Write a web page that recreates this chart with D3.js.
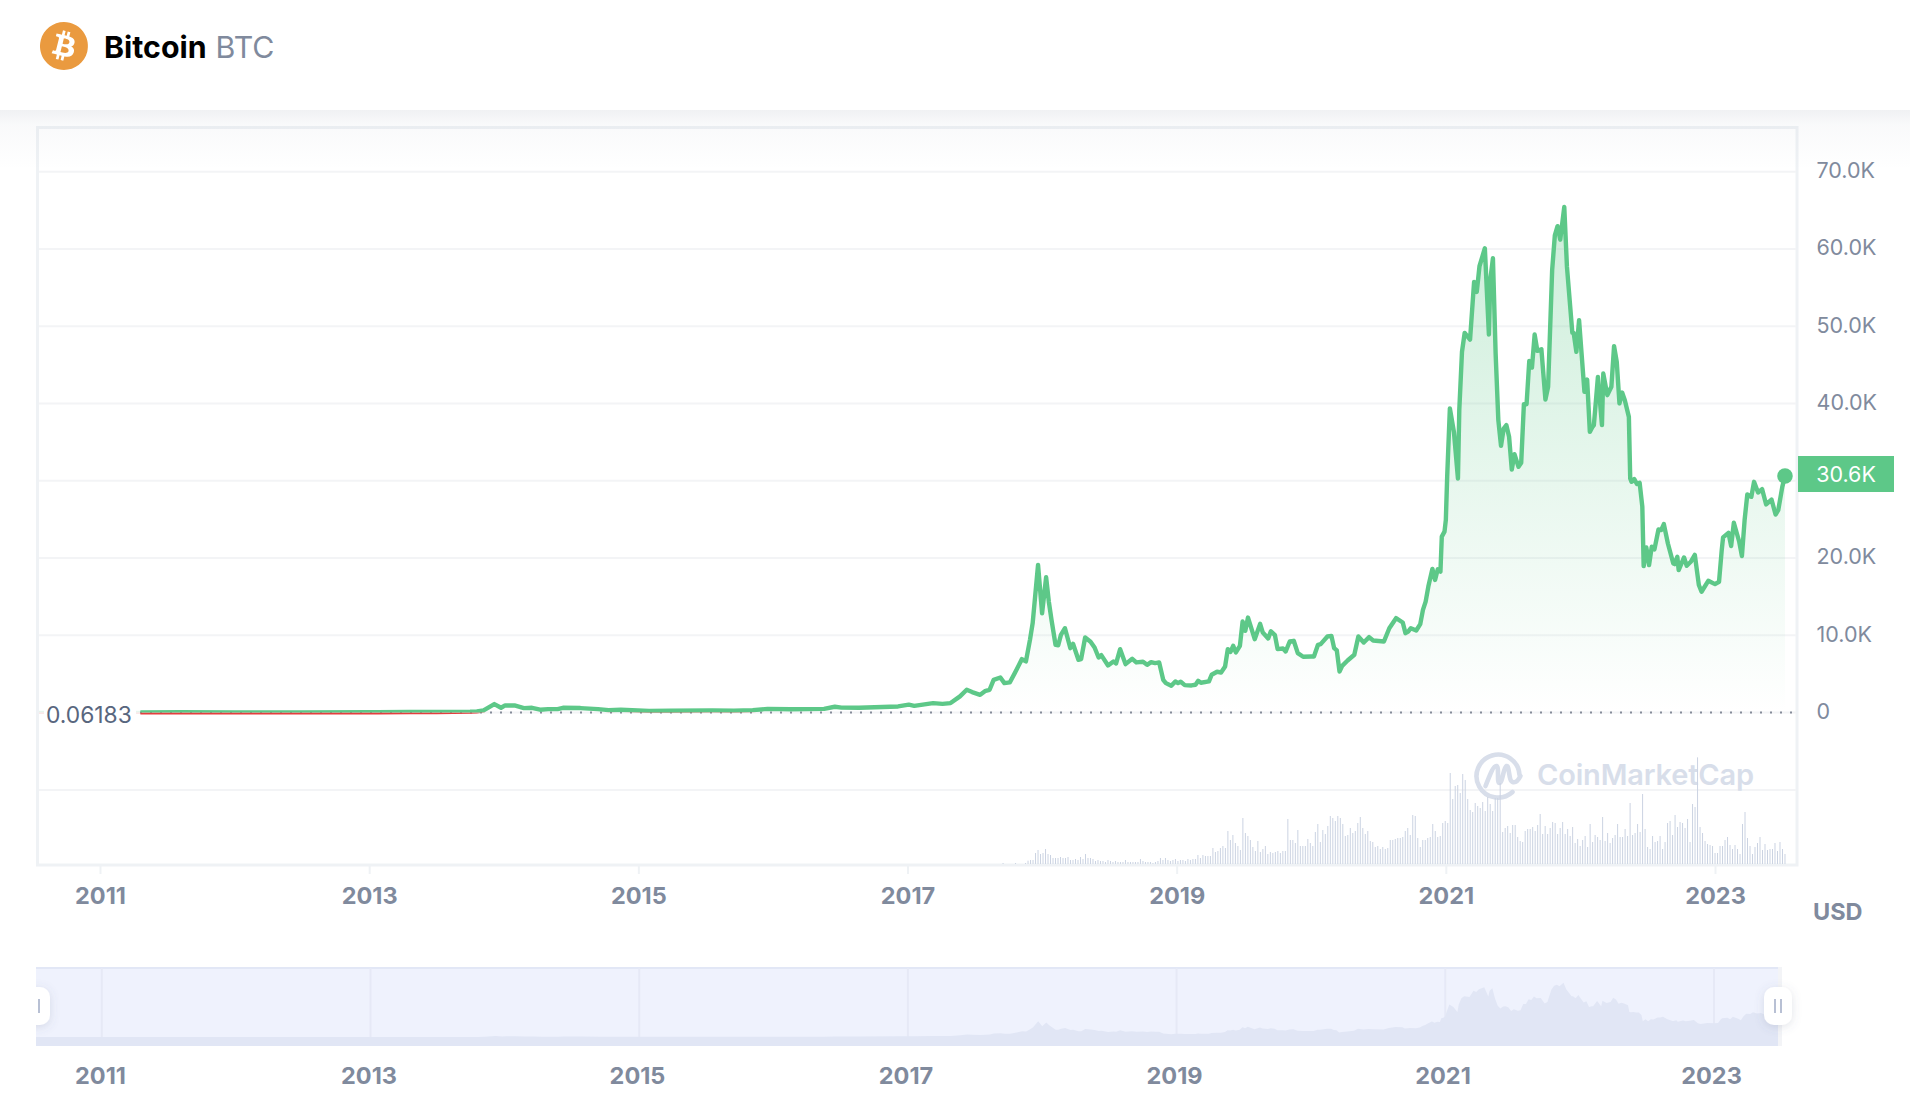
<!DOCTYPE html>
<html>
<head>
<meta charset="utf-8">
<title>Bitcoin BTC</title>
<script src="https://cdn.jsdelivr.net/npm/d3@7"></script>
<style>
  html, body { margin: 0; padding: 0; background: #fff; overflow: hidden; }
  svg { display: block; font-family: Inter, "Noto Sans", sans-serif; }
</style>
</head>
<body>
<svg width="1910" height="1120"></svg>
<script>
// price readings, decimal year + USD
const priceYears = [
  2011.30, 2011.6, 2012.0, 2012.5, 2013.0, 2013.06, 2013.3, 2013.5, 2013.75, 2013.80, 2013.85, 2013.93, 2013.98, 2014.01,
  2014.08, 2014.15, 2014.21, 2014.27, 2014.33, 2014.40, 2014.44, 2014.57, 2014.70, 2014.78, 2014.87, 2015.08, 2015.24,
  2015.55, 2015.71, 2015.85, 2015.96, 2016.13, 2016.38, 2016.46, 2016.51, 2016.64, 2016.93, 2017.01, 2017.05, 2017.19,
  2017.26, 2017.32, 2017.39, 2017.44, 2017.48, 2017.54, 2017.58, 2017.61, 2017.64, 2017.69, 2017.72, 2017.76, 2017.81,
  2017.85, 2017.88, 2017.91, 2017.93, 2017.97, 2018.00, 2018.03, 2018.05, 2018.07, 2018.10, 2018.12, 2018.14, 2018.17,
  2018.21, 2018.23, 2018.27, 2018.29, 2018.32, 2018.36, 2018.39, 2018.42, 2018.44, 2018.49, 2018.53, 2018.55, 2018.58,
  2018.62, 2018.67, 2018.70, 2018.75, 2018.78, 2018.81, 2018.84, 2018.87, 2018.90, 2018.92, 2018.96, 2018.99, 2019.01,
  2019.03, 2019.06, 2019.11, 2019.14, 2019.16, 2019.18, 2019.24, 2019.26, 2019.30, 2019.33, 2019.36, 2019.38, 2019.40,
  2019.42, 2019.44, 2019.47, 2019.49, 2019.51, 2019.53, 2019.58, 2019.62, 2019.64, 2019.68, 2019.70, 2019.73, 2019.75,
  2019.79, 2019.81, 2019.84, 2019.87, 2019.90, 2019.94, 2020.00, 2020.02, 2020.05, 2020.07, 2020.12, 2020.15, 2020.17,
  2020.19, 2020.21, 2020.23, 2020.27, 2020.32, 2020.35, 2020.39, 2020.43, 2020.46, 2020.54, 2020.58, 2020.63, 2020.68,
  2020.70, 2020.72, 2020.74, 2020.78, 2020.81, 2020.83, 2020.85, 2020.87, 2020.90, 2020.92, 2020.94, 2020.96, 2020.97,
  2020.99, 2021.00, 2021.01, 2021.03, 2021.06, 2021.09, 2021.10, 2021.12, 2021.14, 2021.18, 2021.21, 2021.23, 2021.25,
  2021.29, 2021.32, 2021.33, 2021.35, 2021.37, 2021.39, 2021.41, 2021.43, 2021.45, 2021.47, 2021.49, 2021.51, 2021.54,
  2021.56, 2021.58, 2021.60, 2021.62, 2021.64, 2021.66, 2021.68, 2021.71, 2021.74, 2021.76, 2021.79, 2021.81, 2021.83,
  2021.85, 2021.88, 2021.90, 2021.94, 2021.95, 2021.97, 2021.99, 2022.03, 2022.05, 2022.07, 2022.09, 2022.10, 2022.13,
  2022.16, 2022.17, 2022.20, 2022.23, 2022.25, 2022.27, 2022.29, 2022.31, 2022.33, 2022.36, 2022.37, 2022.38, 2022.40,
  2022.42, 2022.44, 2022.46, 2022.47, 2022.49, 2022.51, 2022.53, 2022.55, 2022.58, 2022.60, 2022.62, 2022.65, 2022.69,
  2022.70, 2022.72, 2022.73, 2022.77, 2022.79, 2022.82, 2022.85, 2022.88, 2022.90, 2022.95, 2023.00, 2023.03, 2023.05,
  2023.06, 2023.10, 2023.12, 2023.14, 2023.18, 2023.20, 2023.22, 2023.24, 2023.27, 2023.29, 2023.32, 2023.35, 2023.38,
  2023.42, 2023.45, 2023.47, 2023.50, 2023.52
];
const priceValues = [
  5, 10, 6, 8, 10, 15, 60, 60, 100, 130, 260, 1080, 600, 900,
  900, 560, 600, 350, 430, 430, 600, 560, 430, 300, 350, 200, 220,
  260, 230, 300, 450, 400, 450, 730, 620, 600, 770, 1000, 850, 1200,
  1100, 1207, 2070, 2930, 2630, 2280, 2800, 2930, 4220, 4520, 3790, 3880, 5520,
  6900, 6600, 9400, 11550, 19100, 12840, 17500, 14350, 11980, 8750, 8700, 10040, 10900,
  8320, 8880, 6810, 6900, 9700, 9140, 8400, 7110, 7410, 6080, 6600, 6340, 8190,
  6250, 6940, 6470, 6550, 6160, 6510, 6380, 6470, 4220, 3790, 3450, 4010, 3790,
  3970, 3530, 3490, 3580, 4090, 3840, 4010, 4870, 5260, 5170, 5950, 8190, 7840,
  8620, 7760, 8620, 11770, 10560, 12280, 9480, 11460, 10340, 9570, 10510, 10000, 8190,
  8270, 7890, 9180, 9270, 7670, 7200, 7240, 7240, 8750, 8840, 9830, 9910, 8320,
  8020, 5300, 6030, 6720, 7460, 9830, 9050, 9740, 9310, 9180, 10900, 12200, 11640,
  10260, 10470, 10900, 10600, 11420, 13270, 14350, 16290, 18580, 17150, 18530, 18230, 22760,
  23400, 24900, 30500, 39350, 36330, 30280, 39130, 46670, 49130, 48260, 55730, 54440, 57760,
  60090, 48920, 55950, 58800, 46450, 37840, 34510, 36750, 37190, 35680, 31440, 33440, 31790,
  32310, 39900, 39900, 45510, 44640, 48920, 46800, 47020, 40500, 42150, 57250, 61770, 62940,
  61200, 65440, 57670, 49130, 49130, 46670, 50780, 41500, 43090, 36320, 36970, 37190, 43440,
  37190, 43870, 41070, 42150, 47410, 45380, 40000, 41410, 40420, 38260, 30280, 29850, 30200,
  29560, 29720, 26610, 18940, 21350, 19070, 21440, 21100, 23680, 23600, 24380, 21870, 19280,
  19200, 20150, 18430, 20060, 18980, 19500, 20400, 16490, 15620, 17040, 16610, 16910, 21010,
  22650, 23250, 21530, 24550, 22090, 20240, 24900, 28210, 27910, 29850, 28470, 28910, 26920,
  27560, 25620, 26190, 29200, 30600
];
// weekly volume, first bar mid-september 2017
const volumeStart = 2017.71;
const volumeEnd = 2023.52;
const volumes = [
  3, 0, 0, 0, 0, 3, 0, 0, 0, 3, 10, 12, 12, 33, 42, 30, 33, 45, 30, 27, 18, 18, 18, 21, 18, 18, 21, 12, 12, 15, 12, 21, 15, 30,
  18, 18, 15, 9, 12, 9, 9, 6, 12, 9, 6, 9, 6, 6, 6, 12, 6, 6, 6, 6, 6, 15, 9, 6, 6, 6, 3, 6, 9, 18, 12, 18, 12, 9, 12, 15,
  9, 12, 12, 9, 15, 12, 15, 15, 27, 18, 27, 24, 24, 24, 48, 36, 39, 48, 54, 48, 99, 72, 87, 63, 54,
  42, 138, 93, 84, 72, 51, 39, 69, 36, 45, 54, 30, 36, 33, 36, 39, 33, 39, 39, 135, 72, 72, 63, 102, 54, 54, 54, 75, 63, 54,
  96, 120, 66, 102, 90, 114, 144, 138, 129, 144, 138, 120, 84, 87, 108, 93, 99, 123, 141, 108, 90, 99, 69, 66, 51, 54, 45, 51,
  45, 48, 72, 72, 75, 78, 78, 81, 99, 108, 87, 147, 144, 78, 51, 72, 72, 78, 81, 120, 99, 81, 84,
  123, 129, 123, 273, 195, 234, 237, 213, 270, 252, 195, 162, 156, 183, 174, 168, 186, 159, 201, 180, 159, 198, 198, 243, 96,
  108, 114, 93, 117, 117, 81, 69, 66, 99, 105, 105, 111, 99, 117, 150, 90, 114, 90, 108, 126, 123, 90, 108, 126, 90, 105, 84,
  111, 63, 75, 54, 72, 84, 51, 120, 66, 87, 81, 72, 141, 69, 93, 63, 78, 87, 120, 81, 81, 105, 84, 183, 87, 93, 120, 96, 210,
  105, 51, 45, 84, 66, 69, 84, 45, 66, 123, 129, 87, 147, 111, 126, 123, 108, 135, 66, 180, 171, 320, 111, 93, 69, 60, 57, 54,
  33, 33, 54, 54, 72, 81, 57, 45, 57, 45, 30, 120, 156, 78, 54, 30, 51, 63, 81, 42, 60, 42, 45, 45, 63, 39, 66, 45, 30
];
const xTicks = [2011, 2013, 2015, 2017, 2019, 2021, 2023];
const yTicks = [0, 10000, 20000, 40000, 50000, 60000, 70000];
const gridValues = [0, 10000, 20000, 30000, 40000, 50000, 60000, 70000];
const basePrice = 0.06183;
const lastPrice = 30600;

const green = '#5dc888';
const red = '#e53e3e';
const grey = '#808a9d';

const svg = d3.select('svg');
const defs = svg.append('defs');

const prices = priceYears.map((y, i) => ({ year: y, price: priceValues[i] }));

// main scales
const x = d3.scaleLinear().domain([2011, 2023]).range([100, 1715]);
const y = d3.scaleLinear().domain([0, 70000]).range([712.4, 171.7]);
const yVol = d3.scaleLinear().domain([0, 360]).range([864, 744]);
const barIndex = d3.scaleLinear().domain([0, volumes.length - 1]).range([volumeStart, volumeEnd]);

// navigator scales
const xNav = d3.scaleLinear().domain([2011, 2023]).range([101.8, 1714]);
const xNavLabel = d3.scaleLinear().domain([2011, 2023]).range([100, 1711]);
const yNav = d3.scaleLinear().domain([0, 70000]).range([1037, 979]);

// gradients
const areaGrad = defs.append('linearGradient').attr('id', 'areaGrad')
  .attr('gradientUnits', 'userSpaceOnUse').attr('x1', 0).attr('x2', 0).attr('y1', 170).attr('y2', 712);
areaGrad.append('stop').attr('offset', 0).attr('stop-color', green).attr('stop-opacity', 0.34);
areaGrad.append('stop').attr('offset', 1).attr('stop-color', green).attr('stop-opacity', 0);

const shadowGrad = defs.append('linearGradient').attr('id', 'shadowGrad').attr('x1', 0).attr('x2', 0).attr('y1', 0).attr('y2', 1);
shadowGrad.append('stop').attr('offset', 0).attr('stop-color', '#58667e').attr('stop-opacity', 0.09);
shadowGrad.append('stop').attr('offset', 0.25).attr('stop-color', '#58667e').attr('stop-opacity', 0.035);
shadowGrad.append('stop').attr('offset', 1).attr('stop-color', '#58667e').attr('stop-opacity', 0);

const handleShadow = defs.append('filter').attr('id', 'handleShadow')
  .attr('x', '-60%').attr('y', '-60%').attr('width', '220%').attr('height', '220%');
handleShadow.append('feDropShadow').attr('dx', 0).attr('dy', 2).attr('stdDeviation', 5)
  .attr('flood-color', '#58667e').attr('flood-opacity', 0.18);

// clip the line at the base price: green above, red below
defs.append('clipPath').attr('id', 'above').append('rect')
  .attr('x', 0).attr('width', 1910).attr('y', 0).attr('height', y(basePrice));
defs.append('clipPath').attr('id', 'below').append('rect')
  .attr('x', 0).attr('width', 1910).attr('y', y(basePrice)).attr('height', 400);
defs.append('clipPath').attr('id', 'navClip').append('rect')
  .attr('x', 36).attr('width', 1742).attr('y', 967).attr('height', 80);

// header
const btcIcon = 'M23.638 14.904c-1.602 6.43-8.113 10.34-14.542 8.736C2.67 22.05-1.244 15.525.362 9.105 1.962 2.67 8.475-1.243 14.9.358c6.43 1.605 10.342 8.115 8.738 14.548v-.002zm-6.35-4.613c.24-1.59-.974-2.45-2.64-3.03l.54-2.153-1.315-.33-.525 2.107c-.345-.087-.705-.167-1.064-.25l.526-2.127-1.32-.33-.54 2.165c-.285-.067-.565-.132-.84-.2l-1.815-.45-.35 1.407s.975.225.955.236c.535.136.63.486.615.766l-1.477 5.92c-.075.166-.24.406-.614.314.015.02-.96-.24-.96-.24l-.66 1.51 1.71.426.93.242-.54 2.19 1.32.327.54-2.17c.36.1.705.19 1.05.273l-.51 2.154 1.32.33.545-2.19c2.24.427 3.93.257 4.64-1.774.57-1.637-.03-2.58-1.217-3.196.854-.193 1.5-.76 1.68-1.93h.01zm-3.01 4.22c-.404 1.64-3.157.75-4.05.53l.72-2.9c.896.23 3.757.67 3.33 2.37zm.41-4.24c-.37 1.49-2.662.735-3.405.55l.654-2.64c.744.18 3.137.524 2.75 2.084v.006z';
svg.append('circle').attr('cx', 64).attr('cy', 46).attr('r', 20).attr('fill', '#fff');
svg.append('path').attr('d', btcIcon).attr('fill', '#ea9a3f').attr('transform', 'translate(40,22) scale(2)');

const title = svg.append('text').attr('x', 104).attr('y', 57.5).attr('font-size', 30.3);
title.append('tspan').attr('font-weight', 700).attr('fill', '#000').text('Bitcoin');
title.append('tspan').attr('dx', 9).attr('font-weight', 400).attr('fill', grey).text('BTC');

// frame + grid
svg.append('rect').attr('x', 37.5).attr('y', 127.5).attr('width', 1759.5).attr('height', 737.5)
  .attr('fill', '#fff').attr('stroke', '#eff2f5').attr('stroke-width', 3);

svg.selectAll('.grid').data(gridValues).enter().append('line').attr('class', 'grid')
  .attr('x1', 39).attr('x2', 1796)
  .attr('y1', (d) => y(d)).attr('y2', (d) => y(d))
  .attr('stroke', '#f3f4f6').attr('stroke-width', 2);
svg.append('line').attr('x1', 39).attr('x2', 1796).attr('y1', 790).attr('y2', 790)
  .attr('stroke', '#f3f4f6').attr('stroke-width', 2);

// top shadow of the header
svg.append('rect').attr('x', 0).attr('y', 110).attr('width', 1910).attr('height', 60).attr('fill', 'url(#shadowGrad)');

// watermark
const mark = svg.append('g').attr('transform', 'translate(2.5,0)').attr('fill', 'none').attr('stroke', '#d8deea').attr('stroke-width', 4.6)
  .attr('stroke-linecap', 'round').attr('stroke-linejoin', 'round');
mark.append('path').attr('d', 'M1517 775 A21.5 21.5 0 1 0 1510 792');
mark.append('path').attr('d', 'M1483 786 C1487 776 1491 765 1494 766 C1497 767 1494 783 1497 783 C1500 783 1501 767 1504 766 C1507 765 1506 781 1510 782 C1513 783 1516 780 1518 776');
svg.append('text').attr('x', 1537).attr('y', 785).attr('font-size', 29).attr('font-weight', 600)
  .attr('fill', '#d8deea').attr('textLength', 217).attr('lengthAdjust', 'spacing').text('CoinMarketCap');

// volume bars
svg.selectAll('.vol').data(volumes).enter().append('rect').attr('class', 'vol')
  .attr('x', (d, i) => x(barIndex(i)) - 0.5)
  .attr('width', 1)
  .attr('y', (d) => yVol(d))
  .attr('height', (d) => yVol(0) - yVol(d))
  .attr('fill', '#cbd3e2');

// faint base band left of the line start
svg.append('rect').attr('x', 39).attr('y', 710.8).attr('width', 101).attr('height', 1.6).attr('fill', '#e6f6ed');
svg.append('rect').attr('x', 39).attr('y', 712.4).attr('width', 101).attr('height', 1.6).attr('fill', '#fbe8e8');

// dotted base line
svg.append('line').attr('x1', 140).attr('x2', 1792).attr('y1', 712.4).attr('y2', 712.4)
  .attr('stroke', '#868c99').attr('stroke-width', 2).attr('stroke-dasharray', '2 8');

// area + line
const area = d3.area().x((d) => x(d.year)).y0(y(0)).y1((d) => y(d.price));
const line = d3.line().x((d) => x(d.year)).y((d) => y(d.price)).curve(d3.curveLinear);

svg.append('path').datum(prices).attr('d', area).attr('fill', 'url(#areaGrad)');
svg.append('path').datum(prices).attr('d', line).attr('fill', 'none').attr('stroke', red)
  .attr('stroke-width', 4.4).attr('clip-path', 'url(#below)');
svg.append('path').datum(prices).attr('d', line).attr('fill', 'none').attr('stroke', green)
  .attr('stroke-width', 4.4).attr('stroke-linejoin', 'round').attr('clip-path', 'url(#above)');

// last price dot and tag
svg.append('circle').attr('cx', x(priceYears[priceYears.length - 1])).attr('cy', y(lastPrice)).attr('r', 7.8).attr('fill', green);
svg.append('rect').attr('x', 1798).attr('y', 456).attr('width', 96).attr('height', 36).attr('fill', green);
svg.append('text').attr('x', 1846).attr('y', 474).attr('dy', '0.36em').attr('text-anchor', 'middle')
  .attr('font-size', 21.5).attr('fill', '#fff').text(d3.format('.1f')(lastPrice / 1000) + 'K');

// base price label
svg.append('rect').attr('x', 44).attr('y', 700).attr('width', 92).attr('height', 30).attr('fill', '#fff');
svg.append('text').attr('x', 46).attr('y', 715).attr('dy', '0.36em').attr('font-size', 22.8)
  .attr('fill', '#58667e').text(basePrice);

// y axis
const yAxis = d3.axisRight(y).tickValues(yTicks).tickSize(0).tickPadding(0)
  .tickFormat((d) => (d === 0 ? '0' : d3.format('.1f')(d / 1000) + 'K'));
const yG = svg.append('g').attr('transform', 'translate(1816.5,-1)').call(yAxis);
yG.select('.domain').remove();
yG.selectAll('text').attr('font-family', 'Inter').attr('font-size', 21.5).attr('fill', grey);

// x axis
const xAxis = d3.axisBottom(x).tickValues(xTicks).tickFormat(d3.format('d')).tickSize(8).tickPadding(13);
const xG = svg.append('g').attr('transform', 'translate(0,866)').call(xAxis);
xG.select('.domain').remove();
xG.selectAll('line').attr('stroke', '#eff2f5').attr('stroke-width', 2);
xG.selectAll('text').attr('font-family', 'Inter').attr('font-size', 23.5).attr('font-weight', 700).attr('fill', grey);

svg.append('text').attr('x', 1813).attr('y', 911.5).attr('dy', '0.36em').attr('font-size', 23.5)
  .attr('font-weight', 700).attr('fill', grey).text('USD');

// navigator
svg.append('rect').attr('x', 36).attr('y', 967).attr('width', 1746).attr('height', 79).attr('fill', '#f3f4f7');
svg.append('rect').attr('x', 36).attr('y', 967).attr('width', 1742).attr('height', 79).attr('fill', '#eff2fd');
svg.append('rect').attr('x', 36).attr('y', 967).attr('width', 1742).attr('height', 2).attr('fill', '#e2e7f6');

const navGroup = svg.append('g').attr('clip-path', 'url(#navClip)');
navGroup.selectAll('.navTick').data(xTicks).enter().append('line').attr('class', 'navTick')
  .attr('x1', (d) => xNav(d)).attr('x2', (d) => xNav(d)).attr('y1', 968).attr('y2', yNav(0))
  .attr('stroke', '#e6e9f6').attr('stroke-width', 2);
navGroup.append('rect').attr('x', 36).attr('width', 1742).attr('y', yNav(0)).attr('height', 9).attr('fill', '#e1e6f5');
const navArea = d3.area().x((d) => xNav(d.year)).y0(yNav(0)).y1((d) => yNav(d.price));
navGroup.append('path').datum(prices).attr('d', navArea).attr('fill', '#e1e6f5');

// navigator handles
defs.append('clipPath').attr('id', 'leftHandle').append('rect').attr('x', 36).attr('y', 960).attr('width', 40).attr('height', 80);
svg.append('rect').attr('x', 22).attr('y', 987).attr('width', 28).attr('height', 38).attr('rx', 10)
  .attr('fill', '#fff').attr('filter', 'url(#handleShadow)').attr('clip-path', 'url(#leftHandle)');
svg.append('line').attr('x1', 39).attr('x2', 39).attr('y1', 999).attr('y2', 1013).attr('stroke', '#b8c0d4').attr('stroke-width', 2);

svg.append('rect').attr('x', 1764).attr('y', 987).attr('width', 28).attr('height', 38).attr('rx', 10)
  .attr('fill', '#fff').attr('filter', 'url(#handleShadow)');
[1775, 1781].forEach((d) => {
  svg.append('line').attr('x1', d).attr('x2', d).attr('y1', 999).attr('y2', 1013).attr('stroke', '#b8c0d4').attr('stroke-width', 2);
});

// navigator labels
const navAxis = d3.axisBottom(xNavLabel).tickValues(xTicks).tickFormat(d3.format('d')).tickSize(0).tickPadding(3);
const navG = svg.append('g').attr('transform', 'translate(0,1064)').call(navAxis);
navG.select('.domain').remove();
navG.selectAll('text').attr('font-family', 'Inter').attr('font-size', 23.5).attr('font-weight', 700).attr('fill', grey);
</script>
</body>
</html>
